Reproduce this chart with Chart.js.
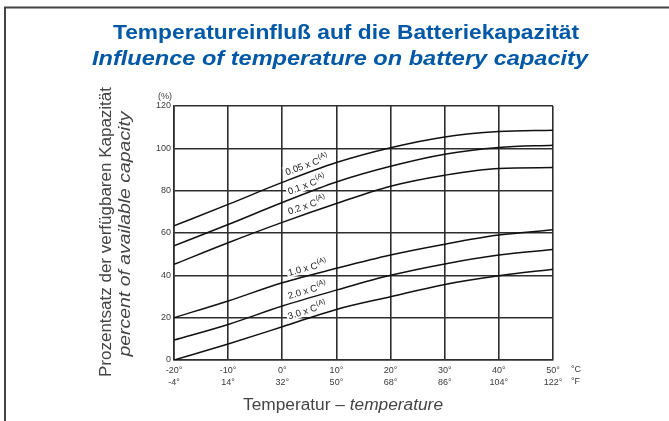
<!DOCTYPE html>
<html>
<head>
<meta charset="utf-8">
<script src="https://cdn.jsdelivr.net/npm/chart.js@4.4.1/dist/chart.umd.min.js"></script>
<style>
html,body{margin:0;padding:0;background:#fff;}
#wrap{width:669px;height:421px;position:relative;}
</style>
</head>
<body>
<div id="wrap"><canvas id="c" width="669" height="421"></canvas></div>
<script>
// ---- data ----
const tempC = [-20, -10, 0, 10, 20, 30, 40, 50];
const tempF = ['-4°', '14°', '32°', '50°', '68°', '86°', '104°', '122°'];
const yTicks = [0, 20, 40, 60, 80, 100, 120];

const cap005 = [63.4, 73.5, 83.9, 93.3, 100.3, 105.4, 107.9, 108.5];
const cap01  = [53.9, 64.0, 74.4, 84.1, 91.5, 97.2, 100.4, 101.5];
const cap02  = [45.2, 55.4, 65.0, 73.9, 82.1, 87.3, 90.5, 90.9];
const cap10  = [20.0, 27.9, 36.5, 43.3, 49.6, 54.7, 59.0, 61.5];
const cap20  = [9.4, 16.8, 25.5, 33.0, 40.0, 45.4, 49.6, 52.2];
const cap30  = [0.0, 7.6, 15.7, 23.9, 29.9, 35.7, 39.8, 42.9];

const seriesNames = ['0.05 x C', '0.1 x C', '0.2 x C', '1.0 x C', '2.0 x C', '3.0 x C'];
const seriesValues = [cap005, cap01, cap02, cap10, cap20, cap30];

const FONT = '"Liberation Sans", Arial, Helvetica, sans-serif';
const TITLE_BLUE = '#0058a6';
const GRID = '#2e2e2e';
const TXT = '#3a3a3a';

const datasets = seriesValues.map((vals, i) => ({
  label: seriesNames[i],
  data: tempC.map((t, k) => ({x: t, y: vals[k]})),
  borderColor: '#111',
  borderWidth: 1.5,
  pointRadius: 0,
  fill: false,
  cubicInterpolationMode: 'monotone'
}));

// draw a list of [text, font] runs centred at (cx, cy), stretched to a target width
function drawRuns(ctx, runs, cx, cy, targetW) {
  let w = 0;
  runs.forEach(r => { ctx.font = r[1]; w += ctx.measureText(r[0]).width; });
  const s = targetW / w;
  ctx.save();
  ctx.translate(cx, cy);
  ctx.scale(s, 1);
  ctx.textAlign = 'left';
  ctx.textBaseline = 'middle';
  let x = -w / 2;
  runs.forEach(r => { ctx.font = r[1]; ctx.fillText(r[0], x, 0); x += ctx.measureText(r[0]).width; });
  ctx.restore();
}

const decor = {
  id: 'decor',
  beforeDraw(chart) {
    const ctx = chart.ctx;
    ctx.save();
    ctx.fillStyle = '#fff';
    ctx.fillRect(0, 0, chart.width, chart.height);
    ctx.strokeStyle = '#444';
    ctx.lineWidth = 2;
    ctx.beginPath();
    ctx.moveTo(5, chart.height);
    ctx.lineTo(5, 7.5);
    ctx.lineTo(chart.width, 7.5);
    ctx.stroke();
    ctx.restore();
  },
  afterDatasetsDraw(chart) {
    const ctx = chart.ctx;
    const xs = chart.scales.x, ys = chart.scales.y;
    ctx.save();
    seriesValues.forEach((vals, i) => {
      const x0 = xs.getPixelForValue(tempC[2]), x1 = xs.getPixelForValue(tempC[3]);
      const y0 = ys.getPixelForValue(vals[2]), y1 = ys.getPixelForValue(vals[3]);
      const ang = Math.atan2(y1 - y0, x1 - x0);
      const px = (x0 + x1) / 2, py = (y0 + y1) / 2;
      ctx.save();
      ctx.translate(px, py);
      ctx.rotate(ang);
      ctx.translate(0, -8);
      ctx.font = '9.5px ' + FONT;
      const w1 = ctx.measureText(seriesNames[i]).width;
      ctx.font = '7px ' + FONT;
      const w2 = ctx.measureText('(A)').width;
      const w = w1 + w2;
      ctx.fillStyle = '#fff';
      ctx.fillRect(-w / 2 - 1.5, -6, w + 3, 11);
      ctx.fillStyle = '#222';
      ctx.textBaseline = 'middle';
      ctx.textAlign = 'left';
      ctx.font = '9.5px ' + FONT;
      ctx.fillText(seriesNames[i], -w / 2, 0.5);
      ctx.font = '7px ' + FONT;
      ctx.fillText('(A)', -w / 2 + w1 + 0.3, -3.2);
      ctx.restore();
    });
    ctx.restore();
  },
  afterDraw(chart) {
    const ctx = chart.ctx;
    const xs = chart.scales.x, ys = chart.scales.y;
    ctx.save();
    // titles
    ctx.fillStyle = TITLE_BLUE;
    drawRuns(ctx, [['Temperatureinfluß auf die Batteriekapazität', 'bold 20px ' + FONT]], 346, 33, 466);
    drawRuns(ctx, [['Influence of temperature on battery capacity', 'italic bold 20px ' + FONT]], 340, 59, 496);

    // y axis title
    ctx.fillStyle = '#444';
    ctx.save();
    ctx.translate(107, 232);
    ctx.rotate(-Math.PI / 2);
    drawRuns(ctx, [['Prozentsatz der verfügbaren Kapazität', '16px ' + FONT]], 0, 0, 290);
    ctx.restore();
    ctx.save();
    ctx.translate(126, 234);
    ctx.rotate(-Math.PI / 2);
    drawRuns(ctx, [['percent of available capacity', 'italic 16px ' + FONT]], 0, 0, 245);
    ctx.restore();

    // x axis title
    drawRuns(ctx, [['Temperatur – ', '16px ' + FONT], ['temperature', 'italic 16px ' + FONT]], 343, 406, 200);

    // units
    ctx.fillStyle = TXT;
    ctx.font = '9px ' + FONT;
    ctx.textAlign = 'left';
    ctx.textBaseline = 'middle';
    ctx.fillText('(%)', xs.left - 16, ys.top - 9);
    ctx.fillText('°C', xs.right + 18, 370);
    ctx.fillText('°F', xs.right + 18, 382);
    ctx.restore();
  }
};

new Chart(document.getElementById('c'), {
  type: 'line',
  data: {datasets},
  options: {
    responsive: false,
    animation: false,
    devicePixelRatio: 1,
    layout: {padding: {left: 134, right: 116, top: 106, bottom: 21}},
    plugins: {legend: {display: false}, tooltip: {enabled: false}, title: {display: false}},
    scales: {
      x: {
        type: 'linear',
        min: -20, max: 50,
        afterBuildTicks(s) { s.ticks = tempC.map(v => ({value: v})); },
        afterFit(s) { s.height = 40; },
        grid: {color: GRID, lineWidth: 1.6, drawTicks: false},
        border: {color: GRID, width: 1.6},
        ticks: {
          color: TXT,
          font: {family: FONT, size: 9, lineHeight: 1.3},
          padding: 5,
          maxRotation: 0,
          callback(v) { const k = tempC.indexOf(v); return [v + '°', tempF[k]]; }
        }
      },
      y: {
        min: 0, max: 120,
        afterBuildTicks(s) { s.ticks = yTicks.map(v => ({value: v})); },
        afterFit(s) { s.width = 40; },
        grid: {color: GRID, lineWidth: 1.6, drawTicks: false},
        border: {color: GRID, width: 1.6},
        ticks: {color: TXT, font: {family: FONT, size: 9}, padding: 3}
      }
    }
  },
  plugins: [decor]
});
</script>
</body>
</html>
